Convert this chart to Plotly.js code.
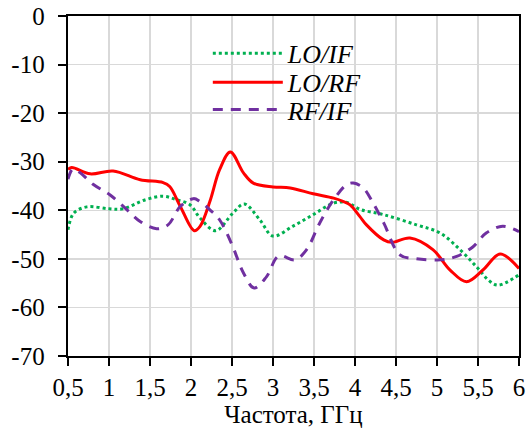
<!DOCTYPE html>
<html>
<head>
<meta charset="utf-8">
<script src="https://cdn.plot.ly/plotly-3.0.1.min.js"></script>
<style>
  html, body { margin: 0; padding: 0; background: #fff; }
  #chart { width: 526px; height: 428px; }
</style>
</head>
<body>
<div id="chart"></div>
<script>
// Isolation (dB) versus frequency (GHz)
const seriesNames = ['LO/IF', 'LO/RF', 'RF/IF'];

const loIfFreq = [0.5, 0.57, 0.73, 1.0, 1.17, 1.45, 1.66, 1.82, 1.99, 2.11, 2.3, 2.51, 2.65, 2.84, 3.0, 3.24, 3.49, 3.74, 3.9, 4.06, 4.35, 4.75, 5.04, 5.28, 5.48, 5.65, 5.75, 6.0];
const loIfVals = [-44.0, -40.6, -39.3, -39.7, -39.7, -37.8, -37.1, -37.8, -38.9, -41.6, -44.2, -40.6, -38.7, -42.0, -45.3, -43.3, -40.9, -38.5, -38.4, -39.8, -40.9, -43.0, -44.7, -48.1, -51.6, -54.7, -55.4, -53.3];

const loRfFreq = [0.5, 0.545, 0.77, 1.05, 1.38, 1.66, 1.74, 1.87, 2.04, 2.11, 2.23, 2.35, 2.48, 2.64, 2.76, 3.0, 3.21, 3.49, 3.74, 3.86, 3.94, 4.06, 4.14, 4.35, 4.45, 4.67, 4.95, 5.16, 5.36, 5.56, 5.77, 6.0];
const loRfVals = [-31.6, -31.2, -32.5, -31.9, -33.7, -34.3, -35.1, -39.2, -44.2, -43.3, -38.2, -31.6, -28.0, -32.3, -34.4, -35.2, -35.4, -36.6, -37.5, -38.2, -38.9, -41.3, -43.0, -46.1, -46.6, -45.7, -48.1, -52.3, -54.7, -52.3, -49.0, -52.0];

const rfIfFreq = [0.5, 0.56, 0.65, 0.81, 1.01, 1.22, 1.38, 1.58, 1.72, 1.87, 2.03, 2.11, 2.23, 2.35, 2.5, 2.64, 2.77, 2.92, 3.07, 3.27, 3.41, 3.57, 3.74, 3.9, 3.98, 4.1, 4.22, 4.35, 4.55, 4.75, 5.04, 5.24, 5.44, 5.6, 5.8, 6.0];
const rfIfVals = [-33.6, -31.5, -32.3, -34.7, -36.8, -39.9, -42.3, -43.8, -43.0, -39.2, -37.6, -38.2, -39.9, -42.0, -47.1, -52.9, -56.0, -53.7, -49.4, -50.2, -48.1, -42.6, -37.8, -34.7, -34.4, -35.4, -38.5, -42.6, -49.2, -50.0, -50.2, -49.5, -47.5, -44.7, -43.3, -44.4];

const xTickVals = [0.5, 1, 1.5, 2, 2.5, 3, 3.5, 4, 4.5, 5, 5.5, 6];
const xTickText = ['0,5', '1', '1,5', '2', '2,5', '3', '3,5', '4', '4,5', '5', '5,5', '6'];
const yTickVals = [0, -10, -20, -30, -40, -50, -60, -70];
const yTickText = ['0', '-10', '-20', '-30', '-40', '-50', '-60', '-70'];
const xTitle = 'Частота, ГГц';

const serif = '"Liberation Serif", "Times New Roman", serif';

// a trailing no-break space keeps the y labels clear of the tick marks
const yTickLabels = yTickText.map(t => t + '\u00A0\u200A');

const traces = [
  {
    x: loIfFreq, y: loIfVals, name: seriesNames[0], mode: 'lines', legend: 'legend',
    line: { color: '#00B050', width: 3, dash: 'dot', shape: 'spline', smoothing: 1 }
  },
  {
    x: loRfFreq, y: loRfVals, name: seriesNames[1], mode: 'lines', legend: 'legend2',
    line: { color: '#FF0000', width: 3, shape: 'spline', smoothing: 1 }
  },
  {
    x: rfIfFreq, y: rfIfVals, name: seriesNames[2], mode: 'lines', legend: 'legend3',
    line: { color: '#7030A0', width: 3, dash: '10px,8px', shape: 'spline', smoothing: 1 }
  }
];

function legendAt(yPos) {
  return {
    x: 0.31, y: yPos, xanchor: 'left', yanchor: 'middle',
    bgcolor: 'rgba(0,0,0,0)', borderwidth: 0,
    font: { family: serif, size: 26, color: '#000', style: 'italic' },
    itemwidth: 70
  };
}

const tickFont = { family: serif, size: 25, color: '#000' };

const layout = {
  width: 526, height: 428,
  margin: { l: 68, r: 7, t: 16, b: 72, pad: 0 },
  paper_bgcolor: '#fff', plot_bgcolor: '#fff',
  font: { family: serif, size: 25, color: '#000' },
  showlegend: true,
  legend: legendAt(0.89),
  legend2: legendAt(0.805),
  legend3: legendAt(0.725),
  xaxis: {
    range: [0.5, 6], tickmode: 'array', tickvals: xTickVals, ticktext: xTickText,
    showgrid: true, gridcolor: '#d9d9d9', gridwidth: 1.5,
    showline: true, linecolor: '#000', linewidth: 2, mirror: true,
    ticks: 'outside', ticklen: 8, tickwidth: 2, tickcolor: '#000',
    zeroline: false,
    tickfont: tickFont,
    title: { text: xTitle, font: { family: serif, size: 25, color: '#000' }, standoff: 4 }
  },
  yaxis: {
    range: [-70, 0], tickmode: 'array', tickvals: yTickVals, ticktext: yTickLabels,
    showgrid: true, gridcolor: '#d9d9d9', gridwidth: 1.5,
    showline: true, linecolor: '#000', linewidth: 2, mirror: true,
    ticks: 'outside', ticklen: 8, tickwidth: 2, tickcolor: '#000',
    zeroline: false,
    tickfont: tickFont
  }
};

Plotly.newPlot('chart', traces, layout, { displayModeBar: false, staticPlot: true });
</script>
</body>
</html>
